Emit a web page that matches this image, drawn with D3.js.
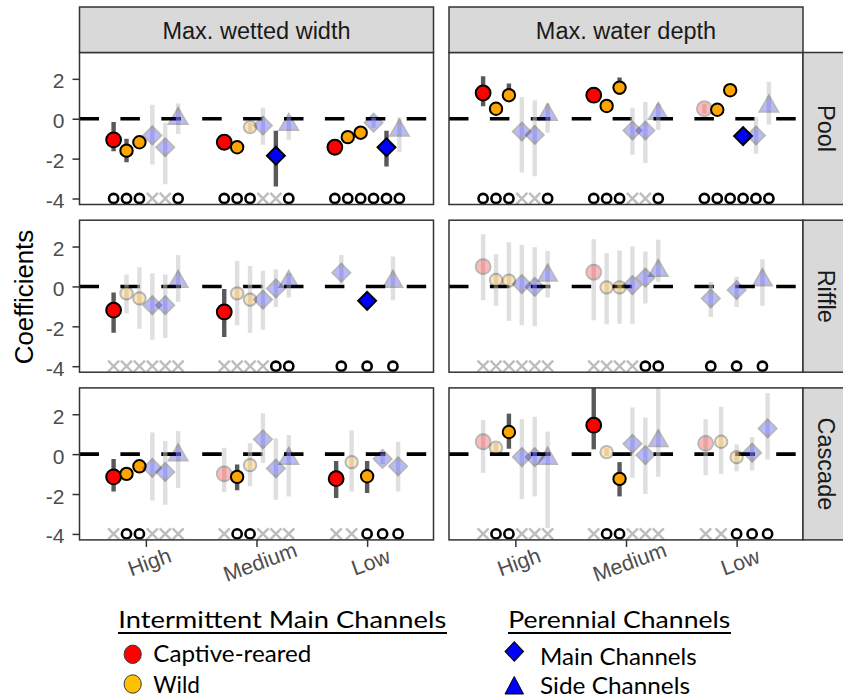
<!DOCTYPE html>
<html><head><meta charset="utf-8">
<script src="https://cdn.jsdelivr.net/npm/d3@7"></script>
<style>body{margin:0;background:#fff} svg{display:block}</style>
</head><body><svg id="chart" width="843" height="700"></svg>
<script>
// ---------------- DATA ----------------
const flows = ["High", "Medium", "Low"];
const groups = ["Captive-reared", "Wild (a)", "Wild (b)", "Main channels (a)", "Main channels (b)", "Side channels"];
const habitats = ["Pool", "Riffle", "Cascade"];
const metrics = ["Max. wetted width", "Max. water depth"];
const yTicks = [-4, -2, 0, 2];

// rows = flow (High, Medium, Low); columns = groups
const poolWidthEst = [[-1.06,-1.6,-1.18,-0.84,-1.43,0.0],[-1.18,-1.43,-0.42,-0.34,-1.85,-0.3],[-1.43,-0.92,-0.7,-0.2,-1.43,-0.59]];
const poolWidthLo  = [[-1.63,-2.18,-1.45,-2.3,-3.28,-0.76],[-1.45,-1.7,-0.65,-1.3,-3.4,-1.06],[-1.7,-1.2,-0.95,-0.45,-2.4,-1.68]];
const poolWidthHi  = [[-0.17,-1.0,-0.9,0.7,-0.2,0.76],[-0.9,-1.15,-0.2,0.55,-0.6,0.08],[-1.15,-0.65,-0.45,0.05,-0.6,0.08]];
const poolWidthSig = [[1,1,1,0,0,0],[1,1,0,0,1,0],[1,1,1,0,1,0]];
const poolWidthMark = [["o","o","o","x","x","o"],["o","o","o","x","x","o"],["o","o","o","o","o","o"]];

const poolDepthEst = [[1.29,0.5,1.18,-0.64,-0.81,0.2],[1.18,0.64,1.56,-0.59,-0.59,0.25],[0.5,0.45,1.43,-0.87,-0.84,0.62]];
const poolDepthLo  = [[0.62,0.25,0.85,-2.69,-2.89,-0.7],[0.9,0.4,1.2,-1.8,-2.22,-0.55],[0.25,0.2,1.15,-1.1,-1.76,-0.29]];
const poolDepthHi  = [[2.13,0.75,1.76,1.09,0.92,0.76],[1.45,0.9,2.07,0.55,0.84,0.76],[0.75,0.7,1.7,-0.6,0.08,1.85]];
const poolDepthSig = [[1,1,1,0,0,0],[1,1,1,0,0,0],[0,1,1,1,0,0]];
const poolDepthMark = [["o","o","o","x","x","o"],["o","o","o","x","x","o"],["o","o","o","o","o","o"]];

const riffleWidthEst = [[-1.19,-0.35,-0.6,-0.94,-0.94,0.24],[-1.28,-0.35,-0.66,-0.66,-0.1,0.24],[null,null,null,0.69,-0.72,0.24]];
const riffleWidthLo  = [[-2.32,-1.36,-2.12,-2.67,-2.59,-0.77],[-2.54,-1.95,-2.32,-2.17,-1.03,-0.55],[null,null,null,0.12,-0.95,-0.69]];
const riffleWidthHi  = [[-0.3,0.6,0.96,0.66,0.6,1.58],[-0.13,1.28,1.03,0.79,0.86,0.66],[null,null,null,1.58,-0.5,1.5]];
const riffleWidthSig = [[1,0,0,0,0,0],[1,0,0,0,0,0],[null,null,null,0,1,0]];
const riffleWidthMark = [["x","x","x","x","x","x"],["x","x","x","x","o","o"],[null,null,null,"o","o","o"]];

const riffleDepthEst = [[0.99,0.32,0.29,0.12,-0.02,0.55],[0.71,-0.05,-0.05,0.07,0.44,0.79],[null,null,null,-0.6,-0.18,0.32]];
const riffleDepthLo  = [[-0.69,-0.97,-1.73,-1.95,-2.0,-0.55],[-1.7,-1.9,-1.87,-1.87,-0.86,0.24],[null,null,null,-1.53,-1.03,-0.97]];
const riffleDepthHi  = [[2.62,1.61,2.22,2.08,1.97,1.78],[2.37,1.66,1.8,2.0,1.75,2.34],[null,null,null,0.24,0.49,1.36]];
const riffleDepthSig = [[0,0,0,0,0,0],[0,0,0,0,0,0],[null,null,null,0,0,0]];
const riffleDepthMark = [["x","x","x","x","x","x"],["x","x","x","x","o","o"],[null,null,null,"o","o","o"]];

const cascadeWidthEst = [[-1.14,-0.99,-0.61,-0.69,-0.89,-0.05],[-0.99,-1.14,-0.55,0.74,-0.72,-0.22],[-1.23,-0.4,-1.11,-0.24,-0.61,null]];
const cascadeWidthLo  = [[-1.87,-1.25,-0.85,-2.32,-2.54,-1.7],[-1.9,-1.81,-1.61,-0.44,-2.29,-2.12],[-2.2,-1.87,-1.95,-0.5,-1.87,null]];
const cascadeWidthHi  = [[-0.24,-0.7,-0.35,1.08,0.66,1.16],[0.32,-0.52,0.54,2.05,0.79,0.96],[-0.35,1.19,-0.35,0.05,0.62,null]];
const cascadeWidthSig = [[1,1,1,0,0,0],[0,1,0,0,0,0],[1,0,1,0,0,null]];
const cascadeWidthMark = [["x","o","o","x","x","x"],["x","o","o","x","x","x"],["x","x","o","o","o",null]];

const cascadeDepthEst = [[0.62,0.32,1.11,-0.15,-0.15,-0.22],[1.45,0.1,-1.24,0.52,-0.05,0.66],[0.54,0.62,-0.15,0.07,1.29,null]];
const cascadeDepthLo  = [[-0.94,0.1,0.27,-2.25,-2.12,-3.71],[0.24,-0.1,-2.12,-1.19,-2.0,-1.14],[-1.06,-0.99,-0.86,-0.82,-0.27,null]];
const cascadeDepthHi  = [[1.71,0.55,2.03,1.75,1.87,1.13],[3.5,0.3,-0.4,2.34,1.83,3.5],[1.75,2.37,0.49,0.86,3.06,null]];
const cascadeDepthSig = [[0,0,1,0,0,0],[1,0,1,0,0,0],[0,0,0,0,0,null]];
const cascadeDepthMark = [["x","o","o","x","x","x"],["x","o","o","x","x","x"],["x","x","o","o","o",null]];

const legendLeftTitle = "Intermittent Main Channels";
const legendLeftItems = ["Captive-reared", "Wild"];
const legendRightTitle = "Perennial Channels";
const legendRightItems = ["Main Channels", "Side Channels"];

// ---------------- STYLE ----------------
const groupStyle = [
  {shape: d3.symbolCircle, size: Math.PI*7.4*7.4, fill: "#FF0000", rot: 0},
  {shape: d3.symbolCircle, size: Math.PI*6.2*6.2, fill: "#FFA500", rot: 0},
  {shape: d3.symbolCircle, size: Math.PI*6.2*6.2, fill: "#FFA500", rot: 0},
  {shape: d3.symbolSquare, size: 160, fill: "#0000FF", rot: 45},
  {shape: d3.symbolSquare, size: 160, fill: "#0000FF", rot: 45},
  {shape: d3.symbolTriangle, size: 150, fill: "#0000FF", rot: 0}
];

const panels = [
  {row:0,col:0,est:poolWidthEst,lo:poolWidthLo,hi:poolWidthHi,sig:poolWidthSig,mark:poolWidthMark},
  {row:0,col:1,est:poolDepthEst,lo:poolDepthLo,hi:poolDepthHi,sig:poolDepthSig,mark:poolDepthMark},
  {row:1,col:0,est:riffleWidthEst,lo:riffleWidthLo,hi:riffleWidthHi,sig:riffleWidthSig,mark:riffleWidthMark},
  {row:1,col:1,est:riffleDepthEst,lo:riffleDepthLo,hi:riffleDepthHi,sig:riffleDepthSig,mark:riffleDepthMark},
  {row:2,col:0,est:cascadeWidthEst,lo:cascadeWidthLo,hi:cascadeWidthHi,sig:cascadeWidthSig,mark:cascadeWidthMark},
  {row:2,col:1,est:cascadeDepthEst,lo:cascadeDepthLo,hi:cascadeDepthHi,sig:cascadeDepthSig,mark:cascadeDepthMark}
];

const colX0 = [79.5, 449], panelW = 354;
const rowY0 = [52.5, 220.2, 387.9], panelH = 152;
const yDomain = [-4.3, 3.32];
const FONT = "'Liberation Sans', Arial, sans-serif";
const LFONT = "Lato, 'Open Sans', sans-serif";

const svg = d3.select("#chart");
svg.append("rect").attr("width", 843).attr("height", 700).attr("fill", "#fff");
const defs = svg.append("defs");

panels.forEach((p, pi) => {
  const x0 = colX0[p.col], y0 = rowY0[p.row];
  const x = d3.scalePoint().domain(flows).range([x0, x0 + panelW]).padding(0.6);
  const y = d3.scaleLinear().domain(yDomain).range([y0 + panelH, y0]);
  const dodgeW = x.step() * 0.7;

  defs.append("clipPath").attr("id", "clip" + pi)
    .append("rect").attr("x", x0).attr("y", y0).attr("width", panelW).attr("height", panelH);

  const g = svg.append("g").attr("clip-path", `url(#clip${pi})`);

  // zero line
  g.append("line").attr("x1", x0).attr("x2", x0 + panelW)
    .attr("y1", y(0)).attr("y2", y(0))
    .attr("stroke", "#000").attr("stroke-width", 3.6).attr("stroke-dasharray", "19.5,21.4");

  const items = [];
  flows.forEach((f, fi) => {
    const present = groups.filter((gn, gi) => p.est[fi][gi] != null);
    const dodge = d3.scaleBand().domain(present).range([-dodgeW / 2, dodgeW / 2]);
    present.forEach(gn => {
      const gi = groups.indexOf(gn);
      items.push({
        gi, cx: x(f) + dodge(gn) + dodge.bandwidth() / 2,
        est: p.est[fi][gi], lo: p.lo[fi][gi], hi: p.hi[fi][gi],
        sig: p.sig[fi][gi] === 1, mark: p.mark[fi][gi]
      });
    });
  });

  // error bars
  g.selectAll(".bar").data(items).join("line")
    .attr("x1", d => d.cx).attr("x2", d => d.cx)
    .attr("y1", d => y(d.lo)).attr("y2", d => y(d.hi))
    .attr("stroke", d => d.sig ? "#595959" : "#c4c4c4")
    .attr("stroke-opacity", d => d.sig ? 1 : 0.55)
    .attr("stroke-width", 4.4);

  // bottom markers
  g.selectAll(".mk").data(items).join("path")
    .attr("transform", d => `translate(${d.cx},${y(-4)})`)
    .attr("d", d => d.mark === "o" ? d3.symbol(d3.symbolCircle, Math.PI * 4.6 * 4.6)() : d3.symbol(d3.symbolTimes, 82)())
    .attr("fill", "none")
    .attr("stroke", d => d.mark === "o" ? "#000" : "#bdbdbd")
    .attr("stroke-width", d => d.mark === "o" ? 2.6 : 2.4);

  // points
  g.selectAll(".pt").data(items).join("path")
    .attr("transform", d => `translate(${d.cx},${y(d.est)}) rotate(${groupStyle[d.gi].rot})`)
    .attr("d", d => d3.symbol(groupStyle[d.gi].shape, groupStyle[d.gi].size)())
    .attr("fill", d => groupStyle[d.gi].fill)
    .attr("stroke", "#000").attr("stroke-width", 2)
    .attr("opacity", d => d.sig ? 1 : 0.27);

  // panel border
  svg.append("rect").attr("x", x0).attr("y", y0).attr("width", panelW).attr("height", panelH)
    .attr("fill", "none").attr("stroke", "#333").attr("stroke-width", 1.5);

  // y axis
  if (p.col === 0) {
    const ax = svg.append("g").attr("transform", `translate(${x0},0)`)
      .call(d3.axisLeft(y).tickValues(yTicks).tickSize(7).tickPadding(8).tickFormat(d => String(d)));
    ax.select(".domain").remove();
    ax.selectAll("line").attr("stroke", "#333").attr("stroke-width", 1.5);
    ax.selectAll("text").attr("font-size", 21).attr("font-family", FONT).attr("fill", "#4d4d4d").attr("dy", "0.43em");
  }
  // x axis
  if (p.row === 2) {
    const ax = svg.append("g").attr("transform", `translate(0,${y0 + panelH})`)
      .call(d3.axisBottom(x).tickSize(7));
    ax.select(".domain").remove();
    ax.selectAll("line").attr("stroke", "#333").attr("stroke-width", 1.5);
    ax.selectAll("text").attr("font-size", 21.5).attr("font-family", FONT).attr("fill", "#4d4d4d")
      .attr("y", 0).attr("dy", "0.35em").attr("text-anchor", "middle")
      .attr("transform", "translate(3,22) rotate(-20)");
  }
  // top strip
  if (p.row === 0) {
    svg.append("rect").attr("x", x0).attr("y", 7).attr("width", panelW).attr("height", y0 - 7)
      .attr("fill", "#d9d9d9").attr("stroke", "#333").attr("stroke-width", 1.5);
    svg.append("text").attr("x", x0 + panelW / 2).attr("y", 38.5).attr("text-anchor", "middle")
      .attr("font-family", FONT).attr("font-size", 23.5).attr("fill", "#1a1a1a").text(metrics[p.col]);
  }
  // right strip
  if (p.col === 1) {
    svg.append("rect").attr("x", x0 + panelW).attr("y", y0).attr("width", 50).attr("height", panelH)
      .attr("fill", "#d9d9d9").attr("stroke", "#333").attr("stroke-width", 1.5);
    svg.append("text").attr("transform", `translate(${x0 + panelW + 14.5},${y0 + panelH / 2}) rotate(90)`)
      .attr("text-anchor", "middle").attr("font-family", FONT).attr("font-size", 23.5).attr("fill", "#1a1a1a")
      .text(habitats[p.row]);
  }
});

// y axis title
svg.append("text").attr("transform", "translate(33,297) rotate(-90)").attr("text-anchor", "middle")
  .attr("font-family", FONT).attr("font-size", 25.8).attr("fill", "#000").text("Coefficients");

// ---------------- LEGEND ----------------
const leg = svg.append("g").attr("font-family", LFONT).attr("fill", "#000");
function ltext(str, x, yb, w, fs) {
  return leg.append("text").attr("x", x).attr("y", yb).attr("font-size", fs)
    .attr("textLength", w).attr("lengthAdjust", "spacingAndGlyphs").text(str);
}
ltext(legendLeftTitle, 118.3, 628.3, 328, 24);
leg.append("line").attr("x1", 118).attr("x2", 447).attr("y1", 633).attr("y2", 633).attr("stroke", "#000").attr("stroke-width", 2);
ltext(legendLeftItems[0], 153.3, 661.7, 158, 24);
ltext(legendLeftItems[1], 153.3, 693.3, 46.7, 24);
leg.append("ellipse").attr("cx", 132.7).attr("cy", 654.3).attr("rx", 8.6).attr("ry", 9.2)
  .attr("fill", "#FF0000").attr("stroke", "#3a3a3a").attr("stroke-width", 1);
leg.append("ellipse").attr("cx", 132.7).attr("cy", 684).attr("rx", 8.6).attr("ry", 9.2)
  .attr("fill", "#FFC000").attr("stroke", "#3a3a3a").attr("stroke-width", 1);

ltext(legendRightTitle, 508.3, 628.3, 222, 24);
leg.append("line").attr("x1", 508).attr("x2", 731).attr("y1", 633).attr("y2", 633).attr("stroke", "#000").attr("stroke-width", 2);
ltext(legendRightItems[0], 540, 665, 156.7, 24);
ltext(legendRightItems[1], 540, 693.5, 150, 24);
leg.append("path").attr("transform", "translate(514.3,651.5) scale(1,1.05) rotate(45)")
  .attr("d", d3.symbol(d3.symbolSquare, 170)())
  .attr("fill", "#0000FF").attr("stroke", "#000").attr("stroke-width", 1);
leg.append("path").attr("d", `M505,694 L523.5,694 L514.25,676.5 Z`)
  .attr("fill", "#0000FF").attr("stroke", "#000").attr("stroke-width", 1);
</script></body></html>
